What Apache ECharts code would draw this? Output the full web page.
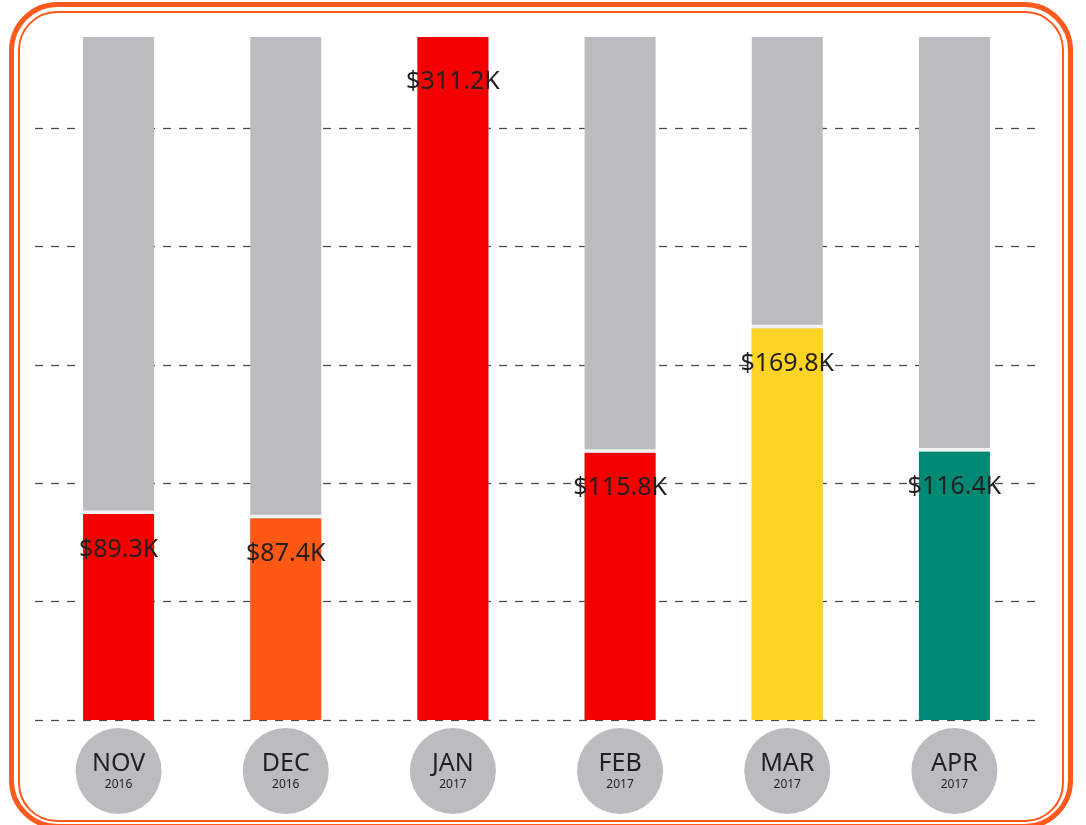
<!DOCTYPE html>
<html><head><meta charset="utf-8">
<script src="https://cdn.jsdelivr.net/npm/echarts@6/dist/echarts.min.js"></script>
<style>html,body{margin:0;padding:0;background:#fff}#c{width:1086px;height:825px}</style>
</head><body><div id="c"></div>
<script>
var months = ['NOV','DEC','JAN','FEB','MAR','APR'];
var years = ['2016','2016','2017','2017','2017','2017'];
var values = [89.3, 87.4, 311.2, 115.8, 169.8, 116.4];
var barColors = ['#f50000','#fe5815','#f50000','#f50000','#fdd426','#008a76'];
var labels = ['$89.3K','$87.4K','$311.2K','$115.8K','$169.8K','$116.4K'];
var AXIS_MAX = 296, GRID_STEP = 51.3;

var chart = echarts.init(document.getElementById('c'));
chart.setOption({
  backgroundColor:'#fff',
  animation:false,
  graphic:[
    {type:'rect', shape:{x:11.5,y:4.5,width:1059,height:822,r:46}, style:{fill:'none',stroke:'#fe5a1d',lineWidth:5}, z:100},
    {type:'rect', shape:{x:19,y:12,width:1044,height:809,r:38}, style:{fill:'none',stroke:'#fe5a1d',lineWidth:2}, z:100}
  ],
  grid:{left:35,right:48,top:37,bottom:105},
  xAxis:{type:'category',data:months,
    axisLine:{show:false},axisTick:{show:false},
    axisLabel:{margin:8,interval:0,
      formatter:function(v,i){return '{m|'+v+'}\n{y|'+years[i]+'}';},
      backgroundColor:'#bbbcc0',borderRadius:43,width:86,height:42,padding:[22,0,22,0],align:'center',
      rich:{m:{fontFamily:'Noto Sans',fontSize:25,lineHeight:27,color:'#231f20',align:'center',width:86},
            y:{fontFamily:'Noto Sans',fontSize:12,lineHeight:15,color:'#231f20',align:'center',width:86}}}
  },
  yAxis:{type:'value',min:0,max:AXIS_MAX,interval:GRID_STEP,
    axisLine:{show:false},axisTick:{show:false},axisLabel:{show:false},
    splitLine:{show:true,showMaxLine:false,lineStyle:{color:'#4a4a4a',type:[8,8],width:1.3}}},
  series:[{
    type:'bar',barWidth:71,clip:true,
    data:values.map(function(v,i){return {value:v,itemStyle:{color:barColors[i]},
      label:{distance: i===2 ? 32 : 23}};}),
    showBackground:true,backgroundStyle:{color:'#bbbcc0'},
    label:{show:true,position:'insideTop',
      formatter:function(p){return labels[p.dataIndex];},
      fontFamily:'Noto Sans',fontSize:25,color:'#231f20'},
    z:3
  },{
    type:'scatter',clip:true,silent:true,
    data:values,
    symbol:'rect',symbolSize:[73,3.5],symbolOffset:[0,-1.75],
    itemStyle:{color:'#fff'},
    z:4
  }]
});
</script></body></html>
